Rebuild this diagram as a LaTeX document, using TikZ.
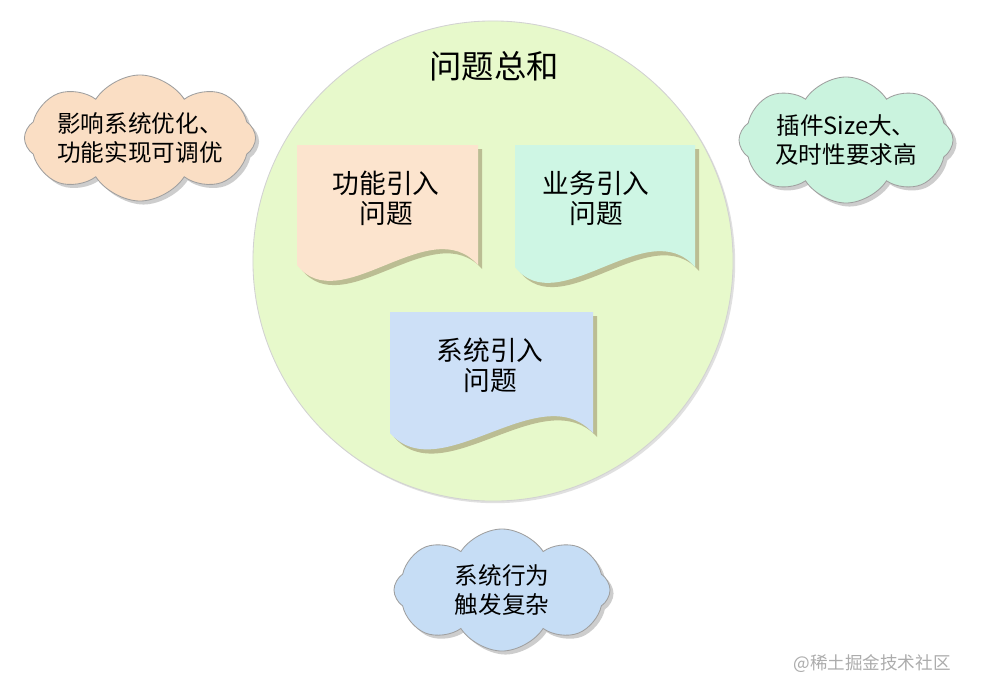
\documentclass[tikz,border=0pt]{standalone}
\usepackage{fontspec}
\setmainfont{Noto Sans CJK SC}
\usepackage{xcolor}
\usetikzlibrary{shapes.symbols, shadows, positioning}
\definecolor{sumgreen}{RGB}{231,249,203}
\definecolor{docpeach}{RGB}{252,228,206}
\definecolor{doccyan}{RGB}{206,246,228}
\definecolor{docblue}{RGB}{205,224,247}
\definecolor{cloudpeach}{RGB}{250,222,196}
\definecolor{cloudcyan}{RGB}{202,243,222}
\definecolor{cloudblue}{RGB}{198,221,245}

\begin{document}
\begin{tikzpicture}[x=0.025cm, y=-0.025cm,
    cloudbox/.style={cloud, cloud puffs=8, cloud puff arc=115, cloud ignores aspect,
        draw=gray!75, line width=0.6pt, inner sep=0pt, align=center,
        font=\fontsize{16.8}{20.6}\selectfont,
        drop shadow={shadow xshift=2.5pt, shadow yshift=-2.5pt, fill=gray!55, opacity=0.7}},
    docbox/.style={drop shadow={shadow xshift=3pt, shadow yshift=-3pt, fill=olive!35!gray!70, opacity=0.8}},
    doctext/.style={align=center, font=\fontsize{19}{21.4}\selectfont}]
    \useasboundingbox[fill=white] (0,0) rectangle (984,698);

    % big circle
    \node[circle, minimum size=12cm, fill=sumgreen, draw=gray!35, line width=0.6pt,
          drop shadow={shadow xshift=1.5pt, shadow yshift=-1.5pt, fill=gray!40, opacity=0.6}] (sum) at (493,261) {};
    \node[font=\fontsize{23}{26}\selectfont] (sumtitle) at (494,66) {问题总和};

    % documents
    \path[docbox, fill=docpeach] (297,145) -- (478,145) -- (478,265)
        .. controls (430,210) and (340,320) .. (297,265) -- cycle;
    \node[doctext] (gongneng) at (386,198) {功能引入\\问题};

    \path[docbox, fill=doccyan] (515,145) -- (695,145) -- (695,267)
        .. controls (648,212) and (558,322) .. (515,267) -- cycle;
    \node[doctext] (yewu) at (596,198) {业务引入\\问题};

    \path[docbox, fill=docblue] (390,312) -- (593,312) -- (593,433)
        .. controls (540,375) and (440,490) .. (390,433) -- cycle;
    \node[doctext] (xitong) at (490,365) {系统引入\\问题};

    % clouds
    \node[cloudbox, fill=cloudpeach, minimum width=5.4cm, minimum height=3.15cm] (youhua) at (140,138) {影响系统优化、\\功能实现可调优};
    \node[cloudbox, fill=cloudcyan, minimum width=5.35cm, minimum height=3.15cm] (chajian) at (846,140) {插件Size大、\\及时性要求高};
    \node[cloudbox, fill=cloudblue, minimum width=5.4cm, minimum height=3.05cm] (xingwei) at (502,590) {系统行为\\触发复杂};

    \node[text=gray!65, font=\fontsize{12.5}{14}\selectfont] (mark) at (872,664) {@稀土掘金技术社区};
\end{tikzpicture}
\end{document}
